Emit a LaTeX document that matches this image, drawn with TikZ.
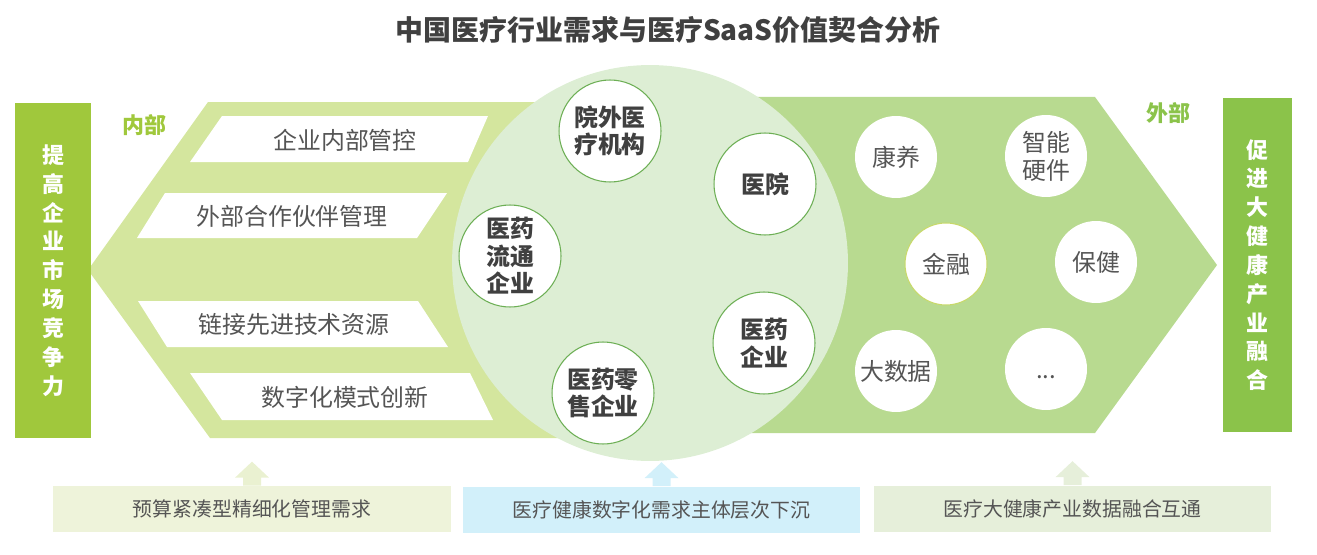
\documentclass[tikz,border=0pt]{standalone}
\usepackage{fontspec}
\usepackage{xcolor}
\usepackage{tikz}
\newfontfamily\cjk{Noto Sans CJK SC}
\definecolor{ink}{HTML}{404040}
\definecolor{txt}{HTML}{555555}
\definecolor{lgreen}{HTML}{A0C83C}
\definecolor{rgreen}{HTML}{8BC34A}
\definecolor{lshape}{HTML}{D4E69E}
\definecolor{rshape}{HTML}{B8DA90}
\definecolor{hub}{HTML}{DDEED4}
\definecolor{ring}{HTML}{6DAF55}
\definecolor{finring}{HTML}{C8D96A}
\definecolor{needa}{HTML}{EEF3DA}
\definecolor{needb}{HTML}{D2F0FA}
\definecolor{needc}{HTML}{E6EFDA}
\newcommand{\hd}{\bfseries}

\begin{document}
\begin{tikzpicture}[
  x=0.02cm, y=-0.02cm, font=\cjk,
  every node/.style={align=center, inner sep=0pt},
  side/.style={minimum width=15.2mm, minimum height=67mm, text=white,
               font=\cjk\hd\fontsize{12.5}{16.4}\selectfont},
  slab/.style={fill=white},
  item/.style={text=txt, font=\cjk\fontsize{13.6}{16}\selectfont},
  actor/.style={circle, draw=ring, line width=0.6pt, fill=white, minimum size=20.4mm,
                text=ink, font=\cjk\hd\fontsize{13.6}{15.6}\selectfont},
  field/.style={circle, fill=white, minimum size=16.4mm, text=txt,
                font=\cjk\fontsize{13.6}{15.9}\selectfont},
  need/.style={minimum width=79.6mm, minimum height=9.2mm, text=txt,
               font=\cjk\fontsize{11.3}{13}\selectfont},
  tag/.style={font=\cjk\hd\fontsize{12.5}{14}\selectfont},
]
\useasboundingbox (0,0) rectangle (1317,554);
\node[text=ink, font=\cjk\hd\fontsize{15.9}{18}\selectfont] (title) at (668,30)
  {中国医疗行业需求与医疗SaaS价值契合分析};

% two arrow bands and the hub
\fill[lshape] (208,102) -- (650,102) -- (650,438) -- (210,438) -- (88,270) -- cycle;
\fill[rshape] (650,97) -- (1095,97) -- (1217,265) -- (1095,433) -- (650,433) -- cycle;
\node[circle, fill=hub, minimum size=79.2mm] (hubc) at (650,263) {};

% inner side
\fill[slab] (222,116) -- (488,116) -- (468,162) -- (190,162) -- cycle;
\fill[slab] (165,193) -- (447,193) -- (417,238) -- (137,238) -- cycle;
\fill[slab] (138,301) -- (418,301) -- (448,347) -- (167,347) -- cycle;
\fill[slab] (190,373) -- (470,373) -- (493,420) -- (222,420) -- cycle;
\node[item] (ctrl) at (345,140) {企业内部管控};
\node[item] (partner) at (292,216) {外部合作伙伴管理};
\node[item] (tech) at (294,324) {链接先进技术资源};
\node[item] (innov) at (345,397) {数字化模式创新};
\node[tag, text=lgreen] (inner) at (144,125) {内部};
\node[side, fill=lgreen] (lbar) at (53,270.5) {提\\高\\企\\业\\市\\场\\竞\\争\\力};

% demand subjects
\node[actor] (outhosp) at (610,131) {院外医\\疗机构};
\node[actor] (hosp) at (765,184) {医院};
\node[actor] (dist) at (510,256) {医药\\流通\\企业};
\node[actor] (pharma) at (764,343) {医药\\企业};
\node[actor] (retail) at (603,393) {医药零\\售企业};

% outer side
\node[field] (care) at (896,157) {康养};
\node[field] (smart) at (1046,156) {智能\\硬件};
\node[field, draw=finring, line width=0.6pt] (fin) at (946,264) {金融};
\node[field] (health) at (1096,262) {保健};
\node[field] (data) at (896,371) {大数据};
\node[field] (more) at (1046,369) {\vphantom{大}...};
\node[tag, text=rgreen] (outer) at (1168,113) {外部};
\node[side, fill=rgreen, minimum width=13.8mm] (rbar) at (1257.5,265) {促\\进\\大\\健\\康\\产\\业\\融\\合};

% demands below
\node[need, fill=needa] (budget) at (252,509) {预算紧凑型精细化管理需求};
\node[need, fill=needb] (sink) at (661.5,509.5) {医疗健康数字化需求主体层次下沉};
\node[need, fill=needc] (fuse) at (1072.5,508.5) {医疗大健康产业数据融合互通};
\fill[needa!85!lshape] (budget.north) ++(-9,0) -- ++(0,-8) -- ++(-8,0) -- ++(17,-16)
  -- ++(17,16) -- ++(-8,0) -- ++(0,8) -- cycle;
\fill[needb] (sink.north) ++(-9,0) -- ++(0,-8) -- ++(-8,0) -- ++(17,-16)
  -- ++(17,16) -- ++(-8,0) -- ++(0,8) -- cycle;
\fill[needc] (fuse.north) ++(-9,0) -- ++(0,-8) -- ++(-8,0) -- ++(17,-16)
  -- ++(17,16) -- ++(-8,0) -- ++(0,8) -- cycle;
\end{tikzpicture}
\end{document}
